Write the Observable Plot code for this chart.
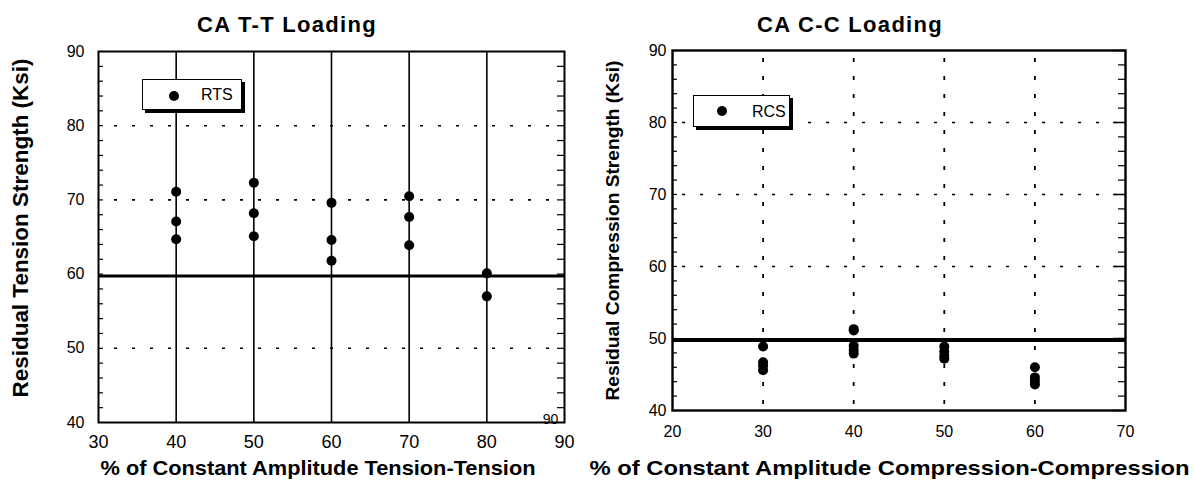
<!DOCTYPE html>
<html>
<head>
<meta charset="utf-8">
<script src="https://cdn.jsdelivr.net/npm/d3@7"></script>
<script src="https://cdn.jsdelivr.net/npm/@observablehq/plot@0.6"></script>
<style>
  body { margin: 0; background: #fff; }
  #root { position: relative; width: 1194px; height: 487px; font-family: "Liberation Sans", Arial, sans-serif; color: #000; }
  .panel { position: absolute; top: 0; height: 487px; }
  .title { position: absolute; top: 0; left: 0; height: 40px; box-sizing: border-box; padding-top: 14px;
           text-align: center; font: bold 22px/22px "Liberation Sans", Arial, sans-serif; letter-spacing: 1.3px; }
  .chart { position: absolute; top: 40px; left: 0; }
  .legend { position: absolute; background: #fff; border: 1.5px solid #000; box-shadow: 3px 3px 0 #000; box-sizing: border-box; }
  .legend .sym { position: absolute; width: 10px; height: 10px; border-radius: 50%; background: #000; }
  .legend .lab { position: absolute; font: 16px "Liberation Sans", Arial, sans-serif; line-height: 16px; }
</style>
</head>
<body>
<div id="root">
  <div class="panel" id="left" style="left:0;width:600px">
    <div class="title" style="width:574px">CA T-T Loading</div>
  </div>
  <div class="panel" id="right" style="left:597px;width:597px">
    <div class="title" style="width:506px">CA C-C Loading</div>
  </div>
</div>
<script>
// ---------- Data: CA T-T Loading ----------
const ttLevels = [40, 50, 60, 70, 80];
const ttStrength = [
  [71.1, 67.1, 64.7],
  [72.3, 68.2, 65.1],
  [69.6, 64.6, 61.8],
  [70.5, 67.7, 63.9],
  [60.1, 57.0]
];
const ttThreshold = 59.75;
const ttXTicks = [30, 40, 50, 60, 70, 80, 90];
const ttYTicks = [40, 50, 60, 70, 80, 90];
const ttDottedY = [50, 70, 80];
const ttSeries = "RTS";
const ttXLabel = "% of Constant Amplitude Tension-Tension";
const ttYLabel = "Residual Tension Strength (Ksi)";
const ttStray = [{x: 88.2, y: 40.4, t: "90"}];

// ---------- Data: CA C-C Loading ----------
const ccLevels = [30, 40, 50, 60];
const ccStrength = [
  [48.9, 46.7, 46.2, 45.6],
  [51.3, 51.1, 49.0, 48.4, 47.9],
  [48.9, 48.2, 47.6, 47.2],
  [46.0, 44.6, 44.1, 43.6]
];
const ccThreshold = 49.8;
const ccXTicks = [20, 30, 40, 50, 60, 70];
const ccYTicks = [40, 50, 60, 70, 80, 90];
const ccDottedY = [60, 70, 80];
const ccSeries = "RCS";
const ccXLabel = "% of Constant Amplitude Compression-Compression";
const ccYLabel = "Residual Compression Strength (Ksi)";

const minorY = d3.range(42, 90, 2);
const font = '"Liberation Sans", Arial, sans-serif';

function rows(levels, values) {
  const out = [];
  levels.forEach((lv, i) => values[i].forEach(v => out.push({level: lv, value: v})));
  return out;
}
function fitText(svg, content, len) {
  svg.querySelectorAll("text").forEach(t => {
    if (t.textContent === content) {
      t.setAttribute("textLength", len);
      t.setAttribute("lengthAdjust", "spacingAndGlyphs");
    }
  });
}

// ---------- Left chart ----------
{
  const W = 600, H = 447, mL = 98, mR = 36, mT = 11, mB = 65;
  const pw = W - mL - mR;
  const chart = Plot.plot({
    width: W, height: H, marginTop: mT, marginBottom: mB, marginLeft: mL, marginRight: mR,
    x: {domain: [30, 90]},
    y: {domain: [40, 90]},
    style: {fontFamily: font, fontSize: "16px", color: "#000", background: "transparent", overflow: "visible"},
    marks: [
      Plot.ruleY(ttDottedY, {strokeWidth: 1.6, strokeDasharray: "3,15", strokeDashoffset: -16}),
      Plot.ruleX(ttLevels, {strokeWidth: 1.6}),
      Plot.ruleY([ttThreshold], {strokeWidth: 3}),
      Plot.tickY(minorY, {insetRight: pw - 5, strokeWidth: 1.2}),
      Plot.tickY(minorY, {insetLeft: pw - 7, strokeWidth: 1.2}),
      Plot.frame({strokeWidth: 2}),
      Plot.dot(rows(ttLevels, ttStrength), {x: "level", y: "value", r: 5, fill: "#000"}),
      Plot.axisX(ttXTicks, {tickSize: 0, tickPadding: 13, fontSize: 18, label: null}),
      Plot.axisY(ttYTicks, {tickSize: 0, tickPadding: 14, fontSize: 16, label: null}),
      Plot.text(ttStray, {x: "x", y: "y", text: "t", fontSize: 14}),
      Plot.text([ttXLabel], {text: d => d, frameAnchor: "bottom", textAnchor: "middle", lineAnchor: "middle", dy: 46, dx: -13.5, fontSize: 21, fontWeight: "bold"}),
      Plot.text([ttYLabel], {text: d => d, frameAnchor: "left", textAnchor: "middle", lineAnchor: "middle", rotate: -90, dx: -78, dy: -9, fontSize: 22, fontWeight: "bold"})
    ]
  });
  fitText(chart, ttXLabel, 435);
  fitText(chart, ttYLabel, 339);
  chart.classList.add("chart");
  const panel = document.getElementById("left");
  panel.appendChild(chart);
  const lg = document.createElement("div");
  lg.className = "legend";
  lg.style.cssText = "left:142px;top:79px;width:100px;height:31px";
  lg.innerHTML = `<div class="sym" style="left:26px;top:11px"></div><div class="lab" style="left:58px;top:7px">${ttSeries}</div>`;
  panel.appendChild(lg);
}

// ---------- Right chart ----------
{
  const W = 597, H = 447, mL = 75, mR = 69, mT = 10, mB = 77;
  const pw = W - mL - mR;
  const chart = Plot.plot({
    width: W, height: H, marginTop: mT, marginBottom: mB, marginLeft: mL, marginRight: mR,
    x: {domain: [20, 70]},
    y: {domain: [40, 90]},
    style: {fontFamily: font, fontSize: "16px", color: "#000", background: "transparent", overflow: "visible"},
    marks: [
      Plot.ruleY(ccDottedY, {strokeWidth: 1.6, strokeDasharray: "3,15", strokeDashoffset: -10}),
      Plot.ruleX(ccLevels, {strokeWidth: 1.8, strokeDasharray: "4,14", strokeDashoffset: -8}),
      Plot.ruleY([ccThreshold], {strokeWidth: 4}),
      Plot.tickY(minorY, {insetRight: pw - 5, strokeWidth: 1.2}),
      Plot.tickY(minorY, {insetLeft: pw - 7, strokeWidth: 1.2}),
      Plot.tickY(ccYTicks, {insetLeft: pw - 12, strokeWidth: 1.4}),
      Plot.frame({strokeWidth: 2.4}),
      Plot.dot(rows(ccLevels, ccStrength), {x: "level", y: "value", r: 5, fill: "#000"}),
      Plot.axisX(ccXTicks, {tickSize: 0, tickPadding: 15, fontSize: 16, label: null}),
      Plot.axisY(ccYTicks, {tickSize: 0, tickPadding: 6, fontSize: 16, label: null}),
      Plot.text([ccXLabel], {text: d => d, frameAnchor: "bottom", textAnchor: "middle", lineAnchor: "middle", dy: 58, dx: -9.5, fontSize: 21, fontWeight: "bold"}),
      Plot.text([ccYLabel], {text: d => d, frameAnchor: "left", textAnchor: "middle", lineAnchor: "middle", rotate: -90, dx: -60, dy: 0, fontSize: 19, fontWeight: "bold"})
    ]
  });
  fitText(chart, ccXLabel, 600);
  fitText(chart, ccYLabel, 340);
  chart.classList.add("chart");
  const panel = document.getElementById("right");
  panel.appendChild(chart);
  const lg = document.createElement("div");
  lg.className = "legend";
  lg.style.cssText = "left:96px;top:95px;width:97px;height:32px";
  lg.innerHTML = `<div class="sym" style="left:23px;top:10px"></div><div class="lab" style="left:58px;top:8px">${ccSeries}</div>`;
  panel.appendChild(lg);
}
</script>
</body>
</html>
